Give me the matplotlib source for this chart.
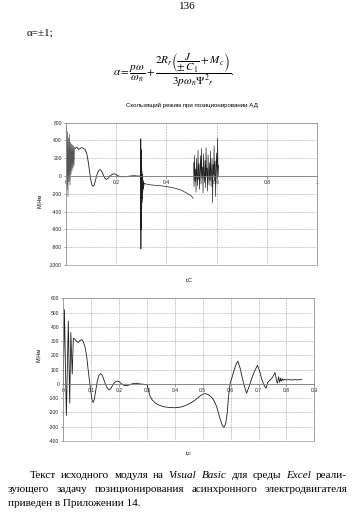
import matplotlib
matplotlib.use('Agg')
import matplotlib.pyplot as plt
from matplotlib.patches import Rectangle

# ---------------- data ----------------
top_title = "Скользящий режим при позиционировании АД"
ylabel = "М,Нм"
top_xlabel = "t,C"
bot_xlabel = "t,c"

top_xticks = [0, 0.2, 0.4, 0.6, 0.8, 1]
top_xticklabels = ["0", "0.2", "0.4", "0.6", "0.8", "1"]
top_yticks = [600, 400, 200, 0, -200, -400, -600, -800, -1000]

bot_xticks = [0, 0.1, 0.2, 0.3, 0.4, 0.5, 0.6, 0.7, 0.8, 0.9]
bot_xticklabels = ["0", "0.1", "0.2", "0.3", "0.4", "0.5", "0.6", "0.7", "0.8", "0.9"]
bot_yticks = [600, 500, 400, 300, 200, 100, 0, -100, -200, -300, -400]

# top chart: start oscillation
top_t_start = [0.000, 0.002, 0.004, 0.006, 0.008, 0.010, 0.012, 0.014, 0.016, 0.018,
               0.020, 0.022, 0.024, 0.026, 0.028, 0.030, 0.032, 0.034]
top_m_start = [0, 560, -150, 500, -230, 430, -60, 470, -100, 380,
               20, 360, 60, 350, 90, 340, 120, 320]
# top chart: smooth transient
top_t_smooth = [0.036, 0.042, 0.050, 0.056, 0.063, 0.070, 0.077, 0.083, 0.088, 0.093,
                0.098, 0.103, 0.108, 0.113, 0.119, 0.125, 0.131, 0.137, 0.143, 0.149,
                0.155, 0.161, 0.167, 0.175, 0.185, 0.195, 0.205, 0.215, 0.228, 0.240,
                0.255, 0.270, 0.285, 0.296]
top_m_smooth = [310, 325, 300, 310, 320, 310, 295, 250, 170, 70,
                -30, -100, -115, -95, -30, 30, 65, 72, 50, 10,
                -25, -37, -28, 0, 22, 25, 5, -5, -8, -5,
                0, 4, 0, 0]
# top chart: spike at 0.3 and drift
top_t_spike = [0.2970, 0.2975, 0.2980, 0.2985, 0.2990, 0.2995, 0.3000, 0.3005, 0.3010,
               0.3015, 0.3020, 0.3025, 0.3030, 0.3035, 0.3040, 0.3045, 0.3050, 0.3060,
               0.3070, 0.3080, 0.3090, 0.3100, 0.3110, 0.3120, 0.320, 0.340, 0.360,
               0.380, 0.400, 0.420, 0.440, 0.460, 0.480, 0.500, 0.506]
top_m_spike = [150, -300, 420, -820, 300, -600, 200, -450, 120,
               -380, 60, -300, 20, -250, -10, -200, -30, -170,
               -50, -140, -70, -110, -80, -85, -90, -100, -105,
               -110, -118, -128, -140, -160, -190, -225, -250]
# top chart: dense oscillation 0.506 .. 0.608
top_t_noise = [0.508, 0.510, 0.512, 0.514, 0.516, 0.518, 0.520, 0.522, 0.524, 0.526,
               0.528, 0.530, 0.532, 0.534, 0.536, 0.538, 0.540, 0.542, 0.544, 0.546,
               0.548, 0.550, 0.552, 0.554, 0.556, 0.558, 0.560, 0.562, 0.564, 0.566,
               0.568, 0.570, 0.572, 0.574, 0.576, 0.578, 0.580, 0.582, 0.584, 0.586,
               0.588, 0.590, 0.592, 0.594, 0.596, 0.598, 0.600, 0.602, 0.604, 0.606,
               0.608]
top_m_noise = [150, -120, 230, -60, 80, -180, 200, 10, -110, 290,
               -40, 140, -150, 60, 230, -90, 310, -20, 100, -190,
               250, 30, -70, 180, -130, 320, 0, 90, -170, 240,
               20, -100, 150, -50, 280, -120, 60, 200, -300, 130,
               10, 340, -60, 170, -230, 90, 260, -40, 430, -10,
               120]

# bottom chart
bot_t = [0.000, 0.004, 0.011, 0.018, 0.023, 0.027, 0.032, 0.036, 0.040, 0.047,
         0.053, 0.060, 0.066, 0.072, 0.078, 0.084, 0.089, 0.094, 0.099, 0.103,
         0.107, 0.111, 0.116, 0.122, 0.128, 0.134, 0.140, 0.147, 0.155, 0.163,
         0.170, 0.178, 0.187, 0.195, 0.203, 0.212, 0.222, 0.232, 0.245, 0.260,
         0.275, 0.290, 0.300, 0.305, 0.310, 0.318, 0.330, 0.345, 0.360, 0.380,
         0.400, 0.420, 0.440, 0.460, 0.475, 0.490, 0.500, 0.510, 0.520, 0.530,
         0.540, 0.550, 0.560, 0.570, 0.576, 0.582, 0.588, 0.593, 0.598, 0.610,
         0.620, 0.626, 0.634, 0.642, 0.650, 0.657, 0.666, 0.676, 0.686, 0.696,
         0.704, 0.712, 0.720, 0.727, 0.733, 0.740, 0.750, 0.759, 0.765, 0.768,
         0.772, 0.776, 0.779, 0.782, 0.785, 0.788, 0.792, 0.800, 0.810, 0.820,
         0.830, 0.840, 0.855]
bot_m = [0, 520, -220, 440, -135, 360, 70, 320, 315, 300,
         290, 305, 310, 295, 260, 190, 100, 20, -60, -110,
         -130, -110, -50, 20, 60, 72, 60, 20, -20, -40,
         -35, -5, 15, 20, 12, -5, -12, -10, 0, 5,
         0, -3, -5, -40, -80, -110, -135, -150, -160, -165,
         -167, -163, -150, -130, -110, -85, -72, -68, -75, -90,
         -115, -160, -230, -290, -305, -280, -200, -80, 0, 80,
         140, 160, 110, 40, -20, -65, -20, 40, 90, 130,
         90, 30, -10, -30, 10, 25, 45, 80, 20, 5,
         50, 10, 40, 20, 35, 25, 32, 28, 30, 28,
         30, 29, 30]

# ---------------- figure ----------------
W, H = 352, 513
fig = plt.figure(figsize=(W / 100, H / 100), dpi=100)
fig.patch.set_facecolor('white')

SANS = 'Liberation Sans'
SERIF = 'Liberation Serif'
LINE = '#1e1e1e'
GRID = '#8c8c8c'


def rect(l, t, r, b):
    return [l / W, 1 - b / H, (r - l) / W, (b - t) / H]


def fx(x):
    return x / W


def fy(y):
    return 1 - y / H


def style_axes(ax, xticks, xlabels, yticks, xlim, ylim):
    ax.set_xlim(*xlim)
    ax.set_ylim(*ylim)
    ax.set_xticks(xticks)
    ax.set_xticklabels(xlabels)
    ax.set_yticks(yticks)
    ax.set_yticklabels([str(v) for v in yticks])
    ax.grid(True, color=GRID, lw=0.5, ls=(0, (1, 1.2)))
    ax.set_axisbelow(True)
    for s in ['top', 'right', 'left']:
        ax.spines[s].set_color('#9a9a9a')
        ax.spines[s].set_linewidth(0.5)
    ax.spines['bottom'].set_position(('data', 0))
    ax.spines['bottom'].set_color('#7a7a7a')
    ax.spines['bottom'].set_linewidth(0.6)
    ax.add_patch(Rectangle((0, 0), 1, 1, transform=ax.transAxes, fill=False,
                           ec='#9a9a9a', lw=0.5, clip_on=False))
    ax.tick_params(axis='both', labelsize=3.6, length=1.5, width=0.4,
                   colors='#555555', labelcolor='#222222', pad=1.5)
    for lab in ax.get_xticklabels() + ax.get_yticklabels():
        lab.set_family(SANS)


# top chart
ax1 = fig.add_axes(rect(66, 122.7, 317, 265))
ax1.plot(top_t_start, top_m_start, color='#555555', lw=0.5)
ax1.plot(top_t_smooth, top_m_smooth, color=LINE, lw=0.6)
ax1.plot(top_t_spike, top_m_spike, color=LINE, lw=0.5)
ax1.plot(top_t_noise, top_m_noise, color=LINE, lw=0.45)
style_axes(ax1, top_xticks, top_xticklabels, top_yticks, (0, 1), (-1000, 600))
ax1.set_ylabel(ylabel, family=SANS, fontsize=4, labelpad=4)
ax1.set_xlabel(top_xlabel, family=SANS, fontsize=4, labelpad=5)
ax1.xaxis.set_label_coords(0.49, -0.085)
ax1.yaxis.set_label_coords(-0.095, 0.45)
ax1.set_title(top_title, family=SANS, fontsize=4.4, pad=11)

# bottom chart
ax2 = fig.add_axes(rect(63.3, 298.3, 314.3, 441))
ax2.plot(bot_t, bot_m, color=LINE, lw=0.6)
style_axes(ax2, bot_xticks, bot_xticklabels, bot_yticks, (0, 0.9), (-400, 600))
ax2.set_ylabel(ylabel, family=SANS, fontsize=4)
ax2.set_xlabel(bot_xlabel, family=SANS, fontsize=4)
ax2.xaxis.set_label_coords(0.5, -0.075)
ax2.yaxis.set_label_coords(-0.09, 0.6)

# page texts
fig.text(fx(187), fy(7), "136", family=SERIF, fontsize=8, ha='center', va='center')
fig.text(fx(27), fy(33), "α=±1;", family=SERIF, fontsize=8, ha='left', va='center')
plt.rcParams['mathtext.fontset'] = 'stix'
fig.text(fx(174), fy(70),
         r"$\alpha=\dfrac{p\omega}{\omega_n}+\dfrac{2R_r\left(\dfrac{J}{\pm\, C_1}+M_c\right)}{3p\omega_n\Psi^2{}_r}.$",
         fontsize=8, ha='center', va='center')

fig.canvas.draw()
renderer = fig.canvas.get_renderer()


def justified(words, styles, x0, x1, y):
    texts = [fig.text(0, fy(y), w, family=SERIF, fontsize=8, style=s, va='center')
             for w, s in zip(words, styles)]
    widths = [t.get_window_extent(renderer).width for t in texts]
    gap = (x1 - x0 - sum(widths)) / (len(words) - 1)
    x = x0
    for t, w in zip(texts, widths):
        t.set_x(fx(x))
        x += w + gap


line1 = ["Текст", "исходного", "модуля", "на", "Visual", "Basic", "для", "среды", "Excel", "реали-"]
sty1 = ['normal'] * 4 + ['italic', 'italic', 'normal', 'normal', 'italic', 'normal']
line2 = ["зующего", "задачу", "позиционирования", "асинхронного", "электродвигателя"]
justified(line1, sty1, 30, 347, 476)
justified(line2, ['normal'] * 5, 8, 347, 490)
fig.text(fx(8), fy(504), "приведен в Приложении 14.", family=SERIF, fontsize=8, va='center')

fig.savefig('out.png', dpi=100, facecolor='white')
